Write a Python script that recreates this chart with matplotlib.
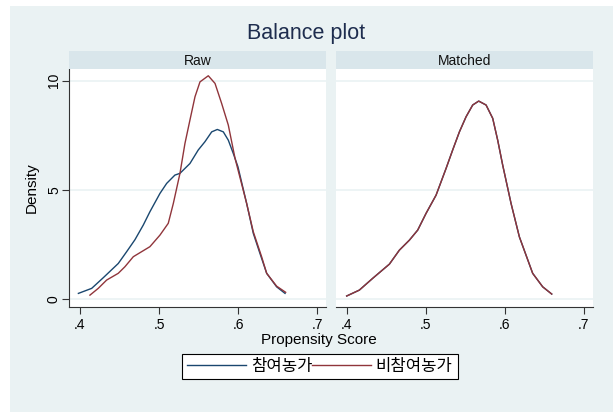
import matplotlib
matplotlib.use("Agg")
import matplotlib.pyplot as plt
from matplotlib.patches import Rectangle

plt.rcParams['font.family'] = ['Liberation Sans', 'Noto Sans CJK KR', 'DejaVu Sans']

# kernel density curves
raw_treat_x = [0.398, 0.4148, 0.4295, 0.4484, 0.459, 0.4695, 0.48, 0.4884, 0.5011, 0.5096,
               0.520, 0.5264, 0.539, 0.5495, 0.558, 0.5665, 0.5736, 0.5812, 0.5875, 0.5938,
               0.5997, 0.6107, 0.6191, 0.6275, 0.636, 0.6486, 0.6592]
raw_treat_y = [0.26, 0.49, 0.98, 1.63, 2.17, 2.72, 3.39, 4.0, 4.84, 5.30,
               5.68, 5.76, 6.21, 6.83, 7.21, 7.66, 7.77, 7.66, 7.28, 6.67,
               6.06, 4.38, 3.01, 2.09, 1.18, 0.56, 0.26]
raw_ctrl_x = [0.4126, 0.4231, 0.4337, 0.4484, 0.4568, 0.4674, 0.4779, 0.4884, 0.5011, 0.5116,
              0.518, 0.5264, 0.5327, 0.539, 0.5454, 0.5517, 0.5622, 0.5707, 0.5791, 0.5875,
              0.596, 0.6107, 0.6191, 0.6296, 0.636, 0.6486, 0.660]
raw_ctrl_y = [0.18, 0.49, 0.87, 1.18, 1.48, 1.94, 2.17, 2.40, 2.93, 3.47,
              4.38, 5.76, 7.13, 8.2, 9.27, 9.95, 10.23, 9.88, 8.96, 7.97,
              6.45, 4.38, 3.08, 1.94, 1.18, 0.59, 0.31]
match_x = [0.400, 0.416, 0.4329, 0.454, 0.4666, 0.4793, 0.4898, 0.5004, 0.513, 0.5257,
           0.534, 0.5425, 0.5509, 0.5593, 0.5669, 0.5762, 0.5846, 0.5909, 0.5972, 0.6078,
           0.6183, 0.6351, 0.6478, 0.6592]
match_y = [0.14, 0.41, 0.95, 1.60, 2.24, 2.70, 3.16, 3.93, 4.76, 5.99,
           6.83, 7.66, 8.35, 8.89, 9.07, 8.89, 8.28, 7.28, 6.14, 4.38,
           2.85, 1.18, 0.56, 0.23]

xticks = [0.4, 0.5, 0.6, 0.7]
xtick_labels = ['.4', '.5', '.6', '.7']
yticks = [0, 5, 10]
panels = ['Raw', 'Matched']
labels = ['참여농가', '비참여농가']

navy = '#1a476f'
maroon = '#90353b'
bg = '#eaf2f3'
strip = '#d9e6eb'

fig = plt.figure(figsize=(6.13, 4.12), dpi=100, facecolor='white')
fig.patches.append(Rectangle((10/613, 0), 1, 1 - 6/412, transform=fig.transFigure,
                             facecolor=bg, edgecolor='none', zorder=-10))

W, H = 613, 412
def box(x0, y0, x1, y1):
    return [x0 / W, 1 - y1 / H, (x1 - x0) / W, (y1 - y0) / H]

ax1 = fig.add_axes(box(69.3, 69, 326, 306.7))
ax2 = fig.add_axes(box(336, 69, 592.7, 306.7))

l1, = ax1.plot(raw_treat_x, raw_treat_y, color=navy, lw=1.0, solid_joinstyle='round')
l2, = ax1.plot(raw_ctrl_x, raw_ctrl_y, color=maroon, lw=1.0, solid_joinstyle='round')
ax2.plot(match_x, match_y, color=navy, lw=1.0, solid_joinstyle='round')
ax2.plot(match_x, match_y, color=maroon, lw=1.0, solid_joinstyle='round')

for ax, name in zip([ax1, ax2], panels):
    ax.set_facecolor('white')
    ax.set_xlim(0.3865, 0.711)
    ax.set_ylim(-0.35, 10.54)
    ax.set_xticks(xticks)
    ax.set_xticklabels(xtick_labels, fontsize=10)
    ax.set_yticks(yticks)
    ax.grid(axis='y', color=bg, lw=1.2)
    ax.set_axisbelow(True)
    for s in ['top', 'right']:
        ax.spines[s].set_visible(False)
    ax.spines['bottom'].set_color('#333333')
    ax.spines['left'].set_color('#333333')
    ax.tick_params(axis='x', length=5, color='#333333', pad=3)
    ax.tick_params(axis='y', length=5, color='#333333', pad=1)
    pos = ax.get_position()
    sax = fig.add_axes([pos.x0, pos.y1, pos.width, 18 / H])
    sax.set_facecolor(strip)
    sax.set_xticks([])
    sax.set_yticks([])
    for s in sax.spines.values():
        s.set_visible(False)
    sax.text(0.5, 0.45, name, ha='center', va='center', fontsize=10, color='#111111')

ax1.set_yticklabels([str(v) for v in yticks], rotation=90, va='center', fontsize=10)
ax1.set_ylabel('Density', fontsize=11, labelpad=6)
ax2.spines['left'].set_visible(False)
ax2.tick_params(axis='y', length=0, labelleft=False)

fig.text(0.5, 1 - 33 / H, 'Balance plot', ha='center', va='center', fontsize=15.5, color='#1e2d4e')
fig.text(319 / W, 1 - 340 / H, 'Propensity Score', ha='center', va='center', fontsize=11)

leg = fig.legend([l1, l2], labels, loc='center', bbox_to_anchor=(320 / W, 1 - 366 / H),
                 ncol=2, frameon=True, fancybox=False, edgecolor='black', facecolor='white',
                 framealpha=1, fontsize=12, handlelength=3.5, handletextpad=0.3,
                 columnspacing=0.0, borderpad=0.3)
leg.get_frame().set_linewidth(0.8)

fig.savefig('out.png', dpi=100, facecolor=fig.get_facecolor())
